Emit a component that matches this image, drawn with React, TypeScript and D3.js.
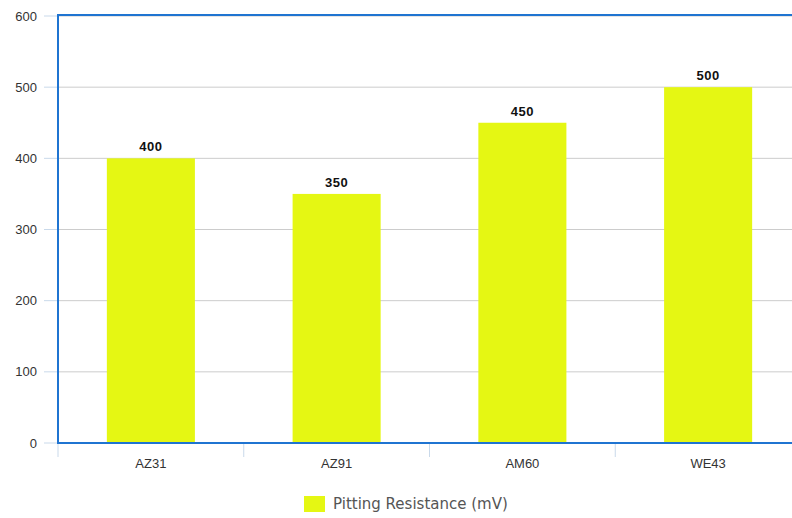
import React from "react";
import * as d3 from "d3";

const alloys = ["AZ31", "AZ91", "AM60", "WE43"];
const pittingResistance = [400, 350, 450, 500];
const yTicks = [0, 100, 200, 300, 400, 500, 600];
const seriesName = "Pitting Resistance (mV)";

const W = 792;
const H = 518;
const left = 58;
const right = 801;
const top = 16;
const bottom = 443;

export default function App() {
  const x = d3.scaleBand<string>().domain(alloys).range([left, right]).paddingInner(0.526).paddingOuter(0.263);
  const band = d3.scaleBand<string>().domain(alloys).range([left, right]);
  const y = d3.scaleLinear().domain([0, 600]).range([bottom, top]);
  const barColor = "#e5f713";
  const axisColor = "#1f74d1";

  return (
    <svg width={W} height={H} style={{ position: "absolute", left: 0, top: 0 }} fontFamily="Liberation Sans, Arial, sans-serif">
      {yTicks.map((t) => (
        <g key={t}>
          <line x1={left} x2={W} y1={y(t)} y2={y(t)} stroke="#cccccc" strokeWidth={1} />
          <line x1={44} x2={left} y1={y(t)} y2={y(t)} stroke="#c9d9ea" strokeWidth={1} />
          <text x={37} y={y(t)} dy="0.35em" textAnchor="end" fontSize={13} fill="#333">
            {t}
          </text>
        </g>
      ))}
      {alloys.map((a, i) => (
        <g key={a}>
          <rect x={x(a)} y={y(pittingResistance[i])} width={x.bandwidth()} height={bottom - y(pittingResistance[i])} fill={barColor} />
          <text
            x={x(a)! + x.bandwidth() / 2}
            y={y(pittingResistance[i]) - 7}
            textAnchor="middle"
            fontSize={13}
            fontWeight="bold"
            letterSpacing={0.6}
            fill="#111"
          >
            {pittingResistance[i]}
          </text>
          <line x1={band(a)} x2={band(a)} y1={bottom} y2={457} stroke="#c9d9ea" strokeWidth={1} />
          <text x={band(a)! + band.bandwidth() / 2} y={468} textAnchor="middle" fontSize={13} fill="#333">
            {a}
          </text>
        </g>
      ))}
      <line x1={left} x2={W} y1={top - 1} y2={top - 1} stroke={axisColor} strokeWidth={2} />
      <line x1={left} x2={W} y1={bottom} y2={bottom} stroke={axisColor} strokeWidth={2} />
      <line x1={left} x2={left} y1={top - 2} y2={bottom + 1} stroke={axisColor} strokeWidth={2} />
      <g>
        <rect x={304} y={496} width={21} height={16} fill={barColor} />
        <text x={333} y={504} dy="0.35em" fontSize={15} fill="#555" fontFamily="DejaVu Sans, sans-serif">
          {seriesName}
        </text>
      </g>
    </svg>
  );
}
